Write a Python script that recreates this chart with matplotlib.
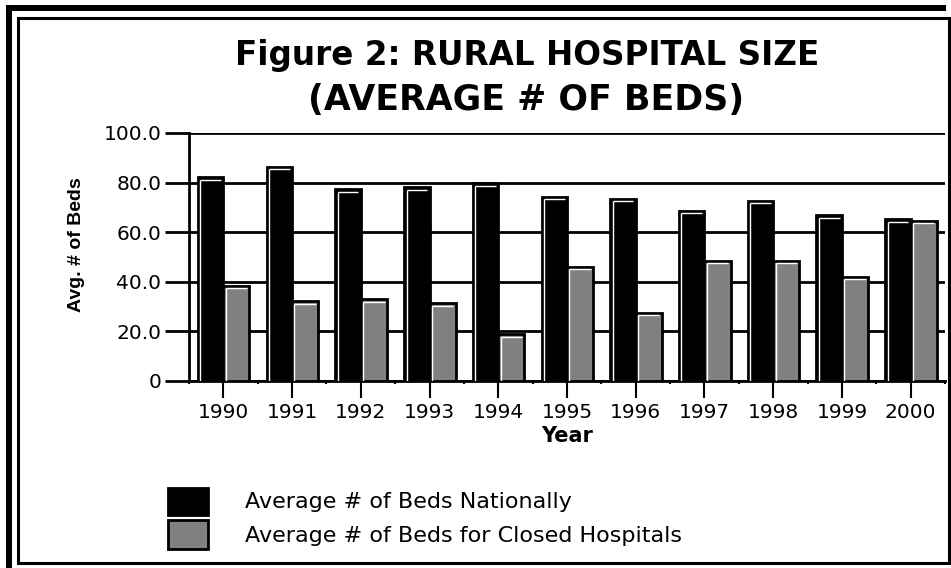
import matplotlib
matplotlib.use("Agg")
import matplotlib.pyplot as plt
from matplotlib.patches import Rectangle
import numpy as np

years = ["1990", "1991", "1992", "1993", "1994", "1995", "1996", "1997", "1998", "1999", "2000"]
national = [82.1, 86.3, 77.4, 78.2, 79.7, 74.3, 73.5, 68.7, 72.7, 66.9, 65.3]
closed = [38.3, 32.2, 33.0, 31.4, 18.8, 46.1, 27.5, 48.5, 48.5, 42.1, 64.6]
yticks = [0, 20, 40, 60, 80, 100]
ytick_labels = ["0", "20.0", "40.0", "60.0", "80.0", "100.0"]
series_names = ["Average # of Beds Nationally", "Average # of Beds for Closed Hospitals"]
series_colors = ["black", "#808080"]

W, H = 951, 568
fig = plt.figure(figsize=(W / 100, H / 100), dpi=100)
fig.patch.set_facecolor("white")

def fx(px):
    return px / W

def fy(py):
    return 1 - py / H

# frame decorations
fig.patches.append(Rectangle((fx(6), fy(568)), fx(6), (568 - 5) / H, transform=fig.transFigure,
                             facecolor="black", edgecolor="none", zorder=0))
fig.patches.append(Rectangle((fx(6), fy(11)), fx(946 - 6), 6 / H, transform=fig.transFigure,
                             facecolor="black", edgecolor="none", zorder=0))
fig.patches.append(Rectangle((fx(18), fy(563)), fx(949 - 18), (563 - 18) / H, transform=fig.transFigure,
                             facecolor="none", edgecolor="black", linewidth=2.2, zorder=0))

ax = fig.add_axes([fx(189), fy(381), fx(945 - 189), (381 - 133) / H])
ax.set_facecolor("none")

x = np.arange(len(years))
bw1 = 0.37
bw2 = 0.38
b1 = ax.bar(x - bw1 / 2, national, width=bw1, color=series_colors[0], edgecolor="black",
            linewidth=2, zorder=3, label=series_names[0])
b2 = ax.bar(x + bw2 / 2, closed, width=bw2, color=series_colors[1], edgecolor="black",
            linewidth=2, zorder=3, label=series_names[1])

# white inner highlight on top and left of each bar
dx = 0.035
dy = 1.0
for xs, vals, w in ((x - bw1, national, bw1), (x, closed, bw2)):
    ax.hlines(np.array(vals) - dy, xs + dx, xs + w - dx, colors="white", linewidth=1.0, zorder=4)
    ax.vlines(xs + dx, 0, np.array(vals) - dy, colors="white", linewidth=1.0, zorder=4)

ax.set_xlim(-0.5, len(years) - 0.5)
ax.set_ylim(0, 100)
ax.set_yticks(yticks)
ax.set_yticklabels(ytick_labels)
ax.yaxis.grid(True, color="black", linewidth=2)
ax.set_axisbelow(True)
ax.tick_params(axis="y", length=17, width=2, pad=3, labelsize=14.5, direction="out")
ax.set_xticks(x)
ax.set_xticklabels(years)
ax.set_xticks(np.arange(len(years) + 1) - 0.5, minor=True)
ax.tick_params(axis="x", which="major", length=12, width=1.5, pad=4, labelsize=14.5)
ax.tick_params(axis="x", which="minor", length=2, width=1.5)
for s in ("top", "right"):
    ax.spines[s].set_visible(False)
ax.spines["left"].set_linewidth(2)
ax.spines["bottom"].set_linewidth(2)
ax.spines["left"].set_bounds(0, 100)

ax.set_xlabel("Year", fontsize=15, fontweight="bold", labelpad=3)
ax.set_ylabel("Avg. # of Beds", fontsize=14, fontweight="bold",
              family=["Liberation Sans", "DejaVu Sans"])
ax.yaxis.set_label_coords(fx(76 - 189) / fx(945 - 189), 0.55)
ax.yaxis.label.set_va("center")

fig.text(fx(527), fy(55), "Figure 2: RURAL HOSPITAL SIZE", fontsize=23.5, fontweight="bold",
         ha="center", va="center")
fig.text(fx(526), fy(100), "(AVERAGE # OF BEDS)", fontsize=25, fontweight="bold",
         ha="center", va="center")

# legend (drawn from the series names / colours)
leg_boxes = [(488, 515), (520, 549)]
for name, col, (top, bot) in zip(series_names, series_colors, leg_boxes):
    fig.patches.append(Rectangle((fx(168), fy(bot)), fx(208 - 168), (bot - top) / H,
                                 transform=fig.transFigure, facecolor=col,
                                 edgecolor="black", linewidth=2, zorder=2))
    fig.text(fx(245), fy((top + bot) / 2 + 1), name, fontsize=16, ha="left", va="center")

fig.savefig("out.png", dpi=100)
